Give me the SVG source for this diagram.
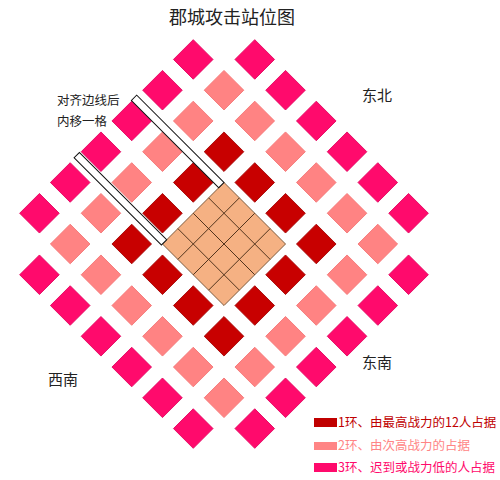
<svg xmlns="http://www.w3.org/2000/svg" width="500" height="480" viewBox="0 0 500 480">
<style>
text{font-family:"Noto Sans CJK SC","Noto Sans",sans-serif;fill:#222}
.t{font-size:18px}
.n{font-size:12.5px}
.d{font-size:15px}
.lg{font-size:12.5px}
.r1{fill:#C80000;stroke:#A00000;stroke-width:0.8}
.r2{fill:#FF8383;stroke:#F37373;stroke-width:0.8}
.r3{fill:#FF0A6C;stroke:#E0005C;stroke-width:0.8}
.cell{fill:#F5B183;stroke:#7A5535;stroke-width:0.9}
.gl{stroke:#4A2E18;stroke-width:0.9}
.bar{fill:#fff;stroke:#111;stroke-width:1}
</style>
<rect width="500" height="480" fill="#fff"/>
<text class="t" x="232" y="24" text-anchor="middle">郡城攻击站位图</text>
<g transform="translate(224,244) rotate(45)">
<g id="ring3">
<rect class="r3" x="-122.75" y="-166.25" width="28" height="28"/>
<rect class="r3" x="-79.25" y="-166.25" width="28" height="28"/>
<rect class="r3" x="-35.75" y="-166.25" width="28" height="28"/>
<rect class="r3" x="7.75" y="-166.25" width="28" height="28"/>
<rect class="r3" x="51.25" y="-166.25" width="28" height="28"/>
<rect class="r3" x="94.75" y="-166.25" width="28" height="28"/>
<rect class="r3" x="-122.75" y="138.25" width="28" height="28"/>
<rect class="r3" x="-79.25" y="138.25" width="28" height="28"/>
<rect class="r3" x="-35.75" y="138.25" width="28" height="28"/>
<rect class="r3" x="7.75" y="138.25" width="28" height="28"/>
<rect class="r3" x="51.25" y="138.25" width="28" height="28"/>
<rect class="r3" x="94.75" y="138.25" width="28" height="28"/>
<rect class="r3" x="-166.25" y="-122.75" width="28" height="28"/>
<rect class="r3" x="-166.25" y="-79.25" width="28" height="28"/>
<rect class="r3" x="-166.25" y="-35.75" width="28" height="28"/>
<rect class="r3" x="-166.25" y="7.75" width="28" height="28"/>
<rect class="r3" x="-166.25" y="51.25" width="28" height="28"/>
<rect class="r3" x="-166.25" y="94.75" width="28" height="28"/>
<rect class="r3" x="138.25" y="-122.75" width="28" height="28"/>
<rect class="r3" x="138.25" y="-79.25" width="28" height="28"/>
<rect class="r3" x="138.25" y="-35.75" width="28" height="28"/>
<rect class="r3" x="138.25" y="7.75" width="28" height="28"/>
<rect class="r3" x="138.25" y="51.25" width="28" height="28"/>
<rect class="r3" x="138.25" y="94.75" width="28" height="28"/>
</g>
<g id="ring2">
<rect class="r2" x="-122.75" y="-122.75" width="28" height="28"/>
<rect class="r2" x="-79.25" y="-122.75" width="28" height="28"/>
<rect class="r2" x="-35.75" y="-122.75" width="28" height="28"/>
<rect class="r2" x="7.75" y="-122.75" width="28" height="28"/>
<rect class="r2" x="51.25" y="-122.75" width="28" height="28"/>
<rect class="r2" x="94.75" y="-122.75" width="28" height="28"/>
<rect class="r2" x="-122.75" y="94.75" width="28" height="28"/>
<rect class="r2" x="-79.25" y="94.75" width="28" height="28"/>
<rect class="r2" x="-35.75" y="94.75" width="28" height="28"/>
<rect class="r2" x="7.75" y="94.75" width="28" height="28"/>
<rect class="r2" x="51.25" y="94.75" width="28" height="28"/>
<rect class="r2" x="94.75" y="94.75" width="28" height="28"/>
<rect class="r2" x="-122.75" y="-79.25" width="28" height="28"/>
<rect class="r2" x="-122.75" y="-35.75" width="28" height="28"/>
<rect class="r2" x="-122.75" y="7.75" width="28" height="28"/>
<rect class="r2" x="-122.75" y="51.25" width="28" height="28"/>
<rect class="r2" x="94.75" y="-79.25" width="28" height="28"/>
<rect class="r2" x="94.75" y="-35.75" width="28" height="28"/>
<rect class="r2" x="94.75" y="7.75" width="28" height="28"/>
<rect class="r2" x="94.75" y="51.25" width="28" height="28"/>
</g>
<g id="ring1">
<rect class="r1" x="-79.25" y="-79.25" width="28" height="28"/>
<rect class="r1" x="-35.75" y="-79.25" width="28" height="28"/>
<rect class="r1" x="7.75" y="-79.25" width="28" height="28"/>
<rect class="r1" x="51.25" y="-79.25" width="28" height="28"/>
<rect class="r1" x="-79.25" y="51.25" width="28" height="28"/>
<rect class="r1" x="-35.75" y="51.25" width="28" height="28"/>
<rect class="r1" x="7.75" y="51.25" width="28" height="28"/>
<rect class="r1" x="51.25" y="51.25" width="28" height="28"/>
<rect class="r1" x="-79.25" y="-35.75" width="28" height="28"/>
<rect class="r1" x="-79.25" y="7.75" width="28" height="28"/>
<rect class="r1" x="51.25" y="-35.75" width="28" height="28"/>
<rect class="r1" x="51.25" y="7.75" width="28" height="28"/>
</g>
<g id="center">
<rect class="cell" x="-43.5" y="-43.5" width="87" height="87"/>
<path class="gl" d="M-21.75,-43.5V43.5M0,-43.5V43.5M21.75,-43.5V43.5M-43.5,-21.75H43.5M-43.5,0H43.5M-43.5,21.75H43.5"/>
</g>
<g id="bars">
<rect class="bar" x="-167" y="-43.5" width="123.5" height="7.5"/>
<rect class="bar" x="-167" y="37.5" width="123.5" height="7.5"/>
</g>
</g>
<g id="labels">
<text class="n" x="57" y="105">对齐边线后</text>
<text class="n" x="57" y="126">内移一格</text>
<text class="d" x="362" y="101">东北</text>
<text class="d" x="48" y="385">西南</text>
<text class="d" x="362" y="368">东南</text>
</g>
<g id="legend">
<rect x="314" y="418" width="23" height="9" fill="#C00000"/>
<text class="lg" x="338" y="427" style="fill:#C00000">1环、由最高战力的12人占据</text>
<rect x="314" y="442" width="23" height="8" fill="#FF8585"/>
<text class="lg" x="338" y="450" style="fill:#FF8585">2环、由次高战力的占据</text>
<rect x="314" y="463" width="23" height="9" fill="#FF0A6C"/>
<text class="lg" x="338" y="472" style="fill:#FF0A6C">3环、迟到或战力低的人占据</text>
</g>
</svg>
